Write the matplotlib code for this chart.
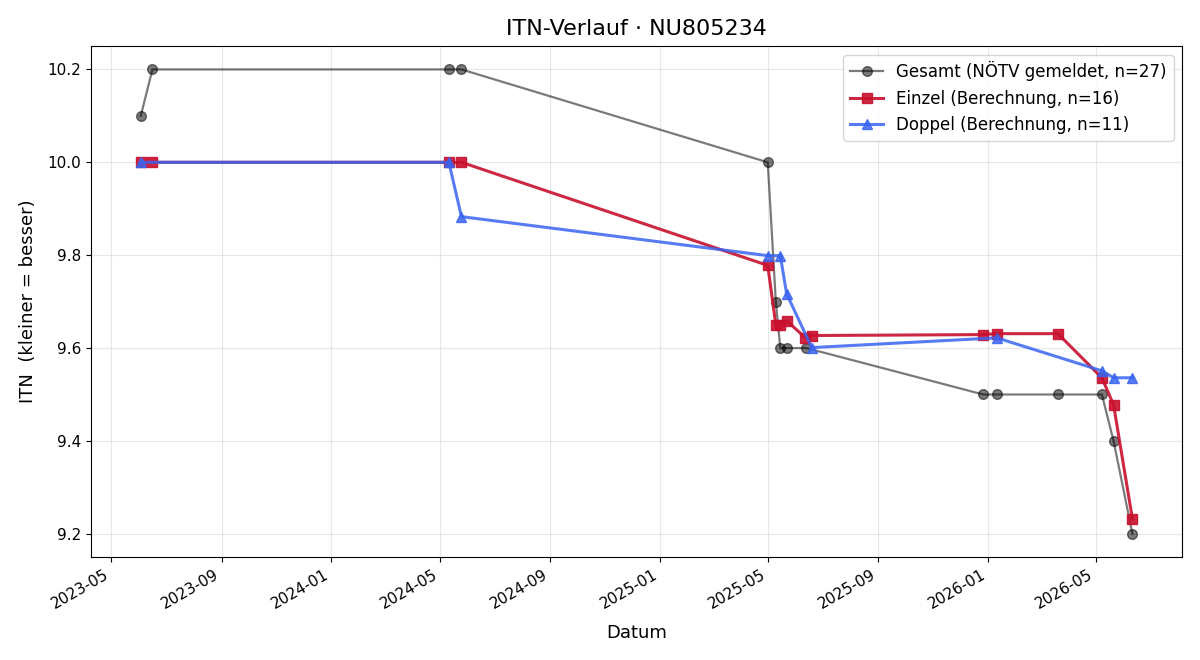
import matplotlib
matplotlib.use("Agg")
import matplotlib.pyplot as plt
import matplotlib.dates as mdates
import pandas as pd

# Gesamt (NÖTV gemeldet)
gesamt_dates = ["2023-06-03", "2023-06-16", "2024-05-11", "2024-05-25", "2025-05-01",
                "2025-05-10", "2025-05-15", "2025-05-22", "2025-06-13", "2025-12-27",
                "2026-01-11", "2026-03-20", "2026-05-08", "2026-05-21", "2026-06-11"]
gesamt_itn = [10.1, 10.2, 10.2, 10.2, 10.0, 9.7, 9.6, 9.6, 9.6, 9.5, 9.5, 9.5, 9.5, 9.4, 9.2]

# Einzel (Berechnung)
einzel_dates = ["2023-06-03", "2023-06-16", "2024-05-11", "2024-05-25", "2025-05-01",
                "2025-05-10", "2025-05-15", "2025-05-22", "2025-06-12", "2025-06-19",
                "2025-12-27", "2026-01-11", "2026-03-20", "2026-05-08", "2026-05-21",
                "2026-06-11"]
einzel_itn = [10.0, 10.0, 10.0, 10.0, 9.778, 9.650, 9.650, 9.659, 9.622, 9.627,
              9.629, 9.631, 9.631, 9.536, 9.478, 9.232]

# Doppel (Berechnung)
doppel_dates = ["2023-06-03", "2024-05-11", "2024-05-25", "2025-05-01", "2025-05-15",
                "2025-05-22", "2025-06-19", "2026-01-11", "2026-05-08", "2026-05-21",
                "2026-06-11"]
doppel_itn = [10.0, 10.0, 9.883, 9.799, 9.799, 9.717, 9.601, 9.622, 9.551, 9.536, 9.536]

fig, ax = plt.subplots(figsize=(12, 6.6), dpi=100)

ax.plot(pd.to_datetime(gesamt_dates), gesamt_itn, marker="o", ms=7, lw=1.6,
        color="black", alpha=0.52, label="Gesamt (NÖTV gemeldet, n=27)")
ax.plot(pd.to_datetime(einzel_dates), einzel_itn, marker="s", ms=7.5, lw=2.2,
        color="#c8102e", alpha=0.9, label="Einzel (Berechnung, n=16)")
ax.plot(pd.to_datetime(doppel_dates), doppel_itn, marker="^", ms=7.5, lw=2.2,
        color="#3a64f0", alpha=0.85, label="Doppel (Berechnung, n=11)")

ax.xaxis.set_major_locator(mdates.MonthLocator(bymonth=[1, 5, 9]))
ax.xaxis.set_major_formatter(mdates.DateFormatter("%Y-%m"))
fig.autofmt_xdate()

ax.set_title("ITN-Verlauf · NU805234", fontsize=16, pad=8)
ax.set_xlabel("Datum", fontsize=13, labelpad=9)
ax.set_ylabel("ITN  (kleiner = besser)", fontsize=13, labelpad=8)
ax.tick_params(labelsize=11)
ax.grid(alpha=0.3)
ax.legend(loc="upper right", fontsize=12)

fig.subplots_adjust(left=0.076, right=0.985, top=0.930, bottom=0.156)
fig.savefig("out.png")
